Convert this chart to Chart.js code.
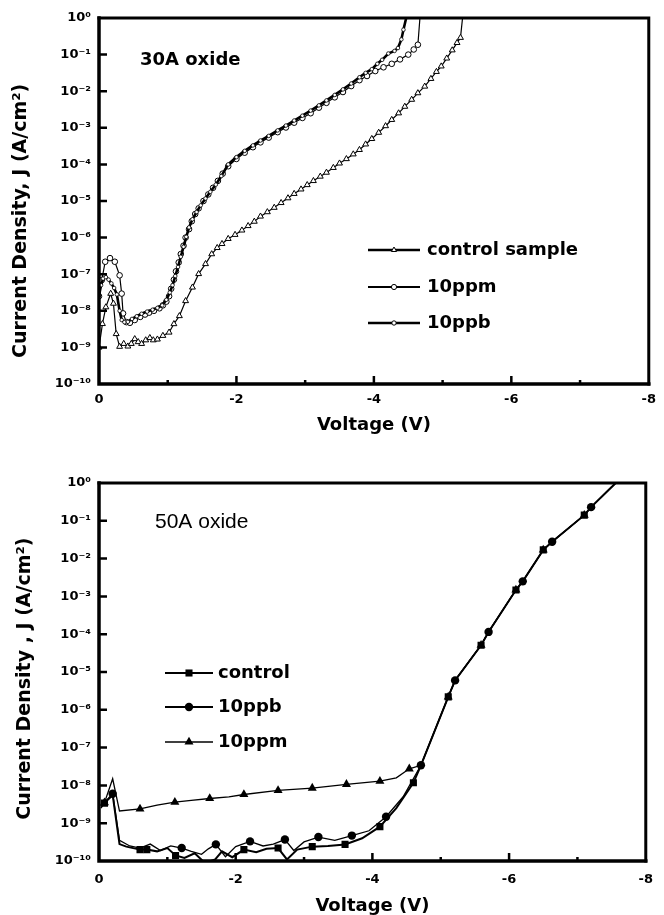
<!DOCTYPE html>
<html><head><meta charset="utf-8">
<script src="https://cdn.jsdelivr.net/npm/chart.js@4.4.0/dist/chart.umd.min.js"></script>
<style>
html,body{margin:0;padding:0;background:#fff;}
#w1{position:absolute;left:0;top:0;width:664px;height:445px;}
#w2{position:absolute;left:0;top:445px;width:664px;height:470px;}
</style></head><body>
<div id="w1"><canvas id="c1"></canvas></div>
<div id="w2"><canvas id="c2"></canvas></div>
<script>
// ---------- axis ticks ----------
const xTickValues = [0, -2, -4, -6, -8];
const xTickLabels = ['0', '-2', '-4', '-6', '-8'];
const xMinorTickValues = [-1, -3, -5, -7];
const yTickValues = [1e-10, 1e-9, 1e-8, 1e-7, 1e-6, 1e-5, 1e-4, 1e-3, 1e-2, 1e-1, 1];
const yTickLabels = ['10\u207B\u00B9\u2070', '10\u207B\u2079', '10\u207B\u2078', '10\u207B\u2077', '10\u207B\u2076', '10\u207B\u2075', '10\u207B\u2074', '10\u207B\u00B3', '10\u207B\u00B2', '10\u207B\u00B9', '10\u2070'];

// ---------- 30A oxide (top) ----------
const ctrl30V = [0, -0.05, -0.10, -0.17, -0.21, -0.25, -0.30, -0.36, -0.42, -0.47, -0.52, -0.57, -0.62, -0.68, -0.74, -0.79, -0.85, -0.93, -1.02, -1.09, -1.17, -1.26, -1.36, -1.45, -1.55, -1.64, -1.72, -1.79, -1.88, -1.98, -2.08, -2.17, -2.26, -2.35, -2.45, -2.55, -2.65, -2.75, -2.84, -2.94, -3.03, -3.12, -3.22, -3.31, -3.41, -3.50, -3.60, -3.70, -3.79, -3.88, -3.97, -4.07, -4.17, -4.26, -4.36, -4.45, -4.55, -4.64, -4.74, -4.83, -4.91, -4.98, -5.06, -5.14, -5.21, -5.26, -5.29];
const ctrl30J = [1.0e-9, 4.4e-9, 1.26e-8, 2.95e-8, 1.58e-8, 2.34e-9, 1.05e-9, 1.26e-9, 1.07e-9, 1.26e-9, 1.7e-9, 1.41e-9, 1.26e-9, 1.58e-9, 1.82e-9, 1.58e-9, 1.66e-9, 2.09e-9, 2.57e-9, 4.37e-9, 7.24e-9, 1.86e-8, 4.37e-8, 1.02e-7, 1.91e-7, 3.55e-7, 5.25e-7, 6.76e-7, 9.3e-7, 1.2e-6, 1.58e-6, 2.09e-6, 2.75e-6, 3.8e-6, 5.0e-6, 6.6e-6, 8.9e-6, 1.2e-5, 1.58e-5, 2.09e-5, 2.75e-5, 3.55e-5, 4.68e-5, 6.0e-5, 8.1e-5, 1.07e-4, 1.41e-4, 1.9e-4, 2.51e-4, 3.55e-4, 5.0e-4, 7.4e-4, 1.12e-3, 1.66e-3, 2.51e-3, 3.8e-3, 5.9e-3, 8.9e-3, 1.35e-2, 2.19e-2, 3.4e-2, 4.8e-2, 7.9e-2, 1.32e-1, 2.1e-1, 2.9e-1, 1.0];

const ppm30V = [0, -0.04, -0.09, -0.16, -0.23, -0.30, -0.33, -0.35, -0.40, -0.45, -0.52, -0.60, -0.67, -0.73, -0.80, -0.88, -0.93, -0.98, -1.02, -1.05, -1.09, -1.12, -1.16, -1.19, -1.23, -1.26, -1.31, -1.35, -1.40, -1.45, -1.52, -1.59, -1.66, -1.73, -1.80, -1.88, -2.00, -2.12, -2.24, -2.35, -2.47, -2.60, -2.72, -2.84, -2.96, -3.08, -3.20, -3.31, -3.43, -3.55, -3.67, -3.79, -3.90, -4.02, -4.14, -4.26, -4.38, -4.50, -4.58, -4.64, -4.67];
const ppm30J = [2.5e-8, 6.9e-8, 2.19e-7, 2.75e-7, 2.19e-7, 9.3e-8, 2.95e-8, 8.5e-9, 4.9e-9, 4.7e-9, 5.6e-9, 6.8e-9, 7.9e-9, 8.9e-9, 1.0e-8, 1.17e-8, 1.41e-8, 1.78e-8, 2.5e-8, 4.0e-8, 7.1e-8, 1.2e-7, 2.1e-7, 3.55e-7, 6.0e-7, 1.0e-6, 1.7e-6, 2.8e-6, 4.4e-6, 6.3e-6, 1.0e-5, 1.51e-5, 2.3e-5, 3.55e-5, 5.6e-5, 8.9e-5, 1.41e-4, 2.09e-4, 2.95e-4, 4.0e-4, 5.4e-4, 7.6e-4, 1.02e-3, 1.38e-3, 1.86e-3, 2.5e-3, 3.55e-3, 4.8e-3, 6.8e-3, 9.5e-3, 1.38e-2, 2.0e-2, 2.6e-2, 3.55e-2, 4.5e-2, 5.6e-2, 7.4e-2, 1.0e-1, 1.38e-1, 1.86e-1, 1.0];

const ppb30V = [0, -0.03, -0.06, -0.10, -0.14, -0.18, -0.22, -0.26, -0.30, -0.33, -0.37, -0.42, -0.48, -0.55, -0.62, -0.70, -0.78, -0.85, -0.92, -0.98, -1.03, -1.07, -1.11, -1.15, -1.19, -1.23, -1.27, -1.31, -1.36, -1.42, -1.48, -1.55, -1.62, -1.70, -1.78, -1.88, -2.00, -2.12, -2.24, -2.35, -2.47, -2.60, -2.72, -2.84, -2.96, -3.08, -3.20, -3.31, -3.43, -3.55, -3.67, -3.79, -3.88, -3.97, -4.05, -4.12, -4.21, -4.30, -4.35, -4.40, -4.43, -4.47];
const ppb30J = [2.6e-8, 5.0e-8, 7.6e-8, 8.3e-8, 7.1e-8, 5.6e-8, 4.2e-8, 2.8e-8, 1.0e-8, 5.6e-9, 4.9e-9, 5.0e-9, 6.0e-9, 7.1e-9, 8.3e-9, 9.5e-9, 1.07e-8, 1.2e-8, 1.41e-8, 2.0e-8, 3.16e-8, 5.0e-8, 8.9e-8, 1.58e-7, 3.0e-7, 5.6e-7, 1.05e-6, 1.9e-6, 3.16e-6, 5.0e-6, 7.6e-6, 1.17e-5, 1.78e-5, 2.8e-5, 4.8e-5, 1.0e-4, 1.58e-4, 2.34e-4, 3.3e-4, 4.5e-4, 6.0e-4, 8.5e-4, 1.15e-3, 1.58e-3, 2.14e-3, 2.95e-3, 4.1e-3, 5.6e-3, 7.9e-3, 1.12e-2, 1.62e-2, 2.4e-2, 3.16e-2, 4.0e-2, 5.6e-2, 7.2e-2, 1.07e-1, 1.26e-1, 1.51e-1, 2.6e-1, 4.8e-1, 1.0];

// ---------- 50A oxide (bottom) ----------
const ctrl50V = [-0.03, -0.08, -0.2, -0.3, -0.4, -0.6, -0.7, -0.85, -1.0, -1.12, -1.25, -1.4, -1.55, -1.7, -1.8, -1.95, -2.12, -2.3, -2.45, -2.62, -2.75, -2.9, -3.12, -3.35, -3.6, -3.85, -4.11, -4.35, -4.6, -4.71, -5.11, -5.21, -5.59, -5.7, -6.1, -6.2, -6.5, -6.63, -7.1, -7.2, -7.56];
const ctrl50J = [2.8e-9, 3.4e-9, 5.6e-9, 2.8e-10, 2.4e-10, 2.0e-10, 2.0e-10, 1.8e-10, 2.2e-10, 1.4e-10, 1.2e-10, 1.6e-10, 8.9e-11, 1.1e-10, 1.8e-10, 1.26e-10, 2.0e-10, 1.7e-10, 2.1e-10, 2.2e-10, 1.1e-10, 2.0e-10, 2.4e-10, 2.5e-10, 2.75e-10, 4.0e-10, 8.1e-10, 2.5e-9, 1.17e-8, 3.4e-8, 2.2e-6, 6.0e-6, 5.1e-5, 1.15e-4, 1.48e-3, 2.5e-3, 1.7e-2, 2.8e-2, 1.41e-1, 2.3e-1, 1.0];
const ctrl50Marked = [1, 5, 6, 9, 16, 19, 22, 24, 26, 28, 30, 32, 34, 36, 38];

const ppb50V = [-0.03, -0.2, -0.3, -0.45, -0.6, -0.75, -0.9, -1.05, -1.21, -1.35, -1.5, -1.6, -1.71, -1.85, -2.0, -2.21, -2.4, -2.55, -2.72, -2.85, -3.0, -3.21, -3.45, -3.7, -3.95, -4.2, -4.45, -4.71, -5.11, -5.21, -5.59, -5.7, -6.1, -6.2, -6.5, -6.63, -7.1, -7.2, -7.56];
const ppb50J = [2.8e-9, 6.0e-9, 3.5e-10, 2.5e-10, 2.2e-10, 2.8e-10, 1.9e-10, 2.5e-10, 2.2e-10, 1.8e-10, 1.5e-10, 2.1e-10, 2.75e-10, 1.3e-10, 2.4e-10, 3.3e-10, 2.5e-10, 2.8e-10, 3.7e-10, 1.9e-10, 3.2e-10, 4.3e-10, 3.5e-10, 4.7e-10, 6.3e-10, 1.48e-9, 5.0e-9, 3.4e-8, 2.2e-6, 6.0e-6, 5.1e-5, 1.15e-4, 1.48e-3, 2.5e-3, 1.7e-2, 2.8e-2, 1.41e-1, 2.3e-1, 1.0];
const ppb50Marked = [1, 8, 12, 15, 18, 21, 23, 25, 27, 29, 31, 33, 35, 37];

const ppm50V = [-0.03, -0.08, -0.2, -0.3, -0.6, -0.85, -1.11, -1.35, -1.62, -1.9, -2.12, -2.62, -3.12, -3.62, -4.11, -4.35, -4.54, -4.71, -5.11, -5.21, -5.59, -5.7, -6.1, -6.2, -6.5, -6.63, -7.1, -7.2, -7.56];
const ppm50J = [2.5e-9, 3.5e-9, 1.5e-8, 2.1e-9, 2.4e-9, 3.0e-9, 3.6e-9, 4.0e-9, 4.5e-9, 5.0e-9, 5.75e-9, 7.4e-9, 8.5e-9, 1.07e-8, 1.29e-8, 1.58e-8, 2.75e-8, 3.4e-8, 2.2e-6, 6.0e-6, 5.1e-5, 1.15e-4, 1.48e-3, 2.5e-3, 1.7e-2, 2.8e-2, 1.41e-1, 2.3e-1, 1.0];
const ppm50Marked = [1, 4, 6, 8, 10, 11, 12, 13, 14, 16, 18, 20, 22, 24, 26];

// ---------- helpers ----------
const pts = (xs, ys) => xs.map((x, i) => ({x, y: ys[i]}));
const FONT = "'DejaVu Sans', 'Liberation Sans', Arial, sans-serif";

function drawMarker(ctx, style, x, y, r, fill, stroke, bw) {
  ctx.save();
  ctx.fillStyle = fill; ctx.strokeStyle = stroke; ctx.lineWidth = bw;
  ctx.beginPath();
  if (style === 'circle') ctx.arc(x, y, r, 0, Math.PI * 2);
  else if (style === 'triangle') {
    ctx.moveTo(x, y - r); ctx.lineTo(x + r * 0.866, y + r * 0.5); ctx.lineTo(x - r * 0.866, y + r * 0.5); ctx.closePath();
  } else if (style === 'rect') {
    const s = r * Math.SQRT1_2; ctx.rect(x - s, y - s, 2 * s, 2 * s);
  }
  ctx.fill();
  if (bw > 0) ctx.stroke();
  ctx.restore();
}

const framePlugin = {
  id: 'frame',
  afterDraw(chart, args, o) {
    const {ctx, chartArea: a} = chart;
    const xs = chart.scales.x, ys = chart.scales.y;
    ctx.save();
    ctx.strokeStyle = '#000';
    ctx.lineCap = 'square';
    ctx.lineWidth = o.frameWidth;
    ctx.beginPath(); ctx.moveTo(a.left, a.top); ctx.lineTo(a.right, a.top); ctx.lineTo(a.right, a.bottom); ctx.stroke();
    ctx.lineWidth = o.axisWidth;
    ctx.beginPath(); ctx.moveTo(a.left, a.top); ctx.lineTo(a.left, a.bottom); ctx.lineTo(a.right, a.bottom); ctx.stroke();
    ctx.lineCap = 'butt';
    ctx.lineWidth = o.tickWidth;
    ctx.beginPath();
    for (const v of yTickValues) {
      if (v <= ys.min || v >= ys.max) continue;
      const p = ys.getPixelForValue(v);
      ctx.moveTo(a.left, p); ctx.lineTo(a.left + o.yTickLen, p);
    }
    for (const v of xTickValues) {
      if (v <= xs.min || v >= xs.max) continue;
      const p = xs.getPixelForValue(v);
      ctx.moveTo(p, a.bottom); ctx.lineTo(p, a.bottom - o.xTickLen);
    }
    for (const v of xMinorTickValues) {
      const p = xs.getPixelForValue(v);
      ctx.moveTo(p, a.bottom); ctx.lineTo(p, a.bottom - o.xMinorLen);
    }
    ctx.stroke();
    ctx.restore();
  }
};

const notesPlugin = {
  id: 'notes',
  afterDraw(chart, args, o) {
    const ctx = chart.ctx;
    ctx.save();
    ctx.fillStyle = '#000';
    ctx.textBaseline = 'middle';
    ctx.textAlign = 'left';
    // annotation
    ctx.font = o.labelFont;
    ctx.fillText(o.label, o.labelX, o.labelY);
    // legend
    ctx.font = o.legendFont;
    o.items.forEach((it, i) => {
      const y = o.rowY[i];
      ctx.strokeStyle = '#000';
      ctx.lineWidth = it.lineWidth;
      ctx.beginPath(); ctx.moveTo(o.lineX0, y); ctx.lineTo(o.lineX1, y); ctx.stroke();
      drawMarker(ctx, it.style, (o.lineX0 + o.lineX1) / 2, y, it.radius, it.fill, '#000', it.bw);
      ctx.fillStyle = '#000';
      ctx.fillText(it.text, o.textX, y);
    });
    ctx.restore();
  }
};

function baseOptions(cfg) {
  return {
    responsive: true,
    maintainAspectRatio: false,
    animation: false,
    devicePixelRatio: 1,
    layout: {padding: {top: cfg.padTop, right: 7, left: 0, bottom: 0}},
    plugins: {
      legend: {display: false},
      tooltip: {enabled: false},
      frame: {frameWidth: 3, axisWidth: 3.5, tickWidth: 2.5, yTickLen: 8, xTickLen: 8, xMinorLen: 4},
      notes: cfg.notes
    },
    scales: {
      x: {
        type: 'linear', min: -8, max: 0, reverse: true,
        afterBuildTicks: s => { s.ticks = xTickValues.map(v => ({value: v})); },
        afterFit: s => { s.height = cfg.xAxisH; },
        grid: {display: false, drawTicks: false},
        border: {display: false},
        ticks: {
          color: '#000', padding: cfg.xTickPad, maxRotation: 0, autoSkip: false,
          font: {family: FONT, weight: 'bold', size: 13},
          callback: v => xTickLabels[xTickValues.indexOf(v)]
        },
        title: {
          display: true, text: 'Voltage (V)', color: '#000',
          font: {family: FONT, weight: 'bold', size: 18, lineHeight: 1},
          padding: {top: 0, bottom: cfg.xTitlePad}
        }
      },
      y: {
        type: 'logarithmic', min: 1e-10, max: 1,
        afterBuildTicks: s => { s.ticks = yTickValues.map(v => ({value: v})); },
        afterFit: s => { s.width = 99; },
        grid: {display: false, drawTicks: false},
        border: {display: false},
        ticks: {
          color: '#000', padding: 8, autoSkip: false,
          font: {family: FONT, weight: 'bold', size: 13},
          callback: v => yTickLabels[yTickValues.indexOf(v)]
        },
        title: {
          display: true, text: cfg.yTitle, color: '#000',
          font: {family: FONT, weight: 'bold', size: 19, lineHeight: 1},
          padding: {top: cfg.yTitlePad, bottom: 0}
        }
      }
    }
  };
}

const hideTop = r => c => (c.raw && c.raw.y >= 1) ? 0 : r;

// ---------- chart 1 ----------
new Chart(document.getElementById('c1'), {
  type: 'line',
  data: {
    datasets: [
      {label: '10ppb', data: pts(ppb30V, ppb30J), borderColor: '#000', borderWidth: 2.6, tension: 0,
       pointStyle: 'circle', pointRadius: hideTop(1.8), pointBackgroundColor: '#fff', pointBorderColor: '#000', pointBorderWidth: 0.8},
      {label: '10ppm', data: pts(ppm30V, ppm30J), borderColor: '#000', borderWidth: 1.2, tension: 0,
       pointStyle: 'circle', pointRadius: hideTop(2.8), pointBackgroundColor: '#fff', pointBorderColor: '#000', pointBorderWidth: 1},
      {label: 'control sample', data: pts(ctrl30V, ctrl30J), borderColor: '#000', borderWidth: 1.2, tension: 0,
       pointStyle: 'triangle', pointRadius: hideTop(3.4), pointBackgroundColor: '#fff', pointBorderColor: '#000', pointBorderWidth: 1}
    ]
  },
  options: baseOptions({
    padTop: 18, xAxisH: 61, xTickPad: 8, xTitlePad: 11, yTitlePad: 12,
    yTitle: 'Current Density, J (A/cm\u00B2)      ',
    notes: {
      label: '30A oxide', labelX: 140, labelY: 60, labelFont: "bold 18px " + FONT,
      legendFont: "bold 18px " + FONT, lineX0: 368, lineX1: 420, textX: 427, rowY: [250, 287, 323],
      items: [
        {text: 'control sample', lineWidth: 2.6, style: 'triangle', radius: 3, fill: '#fff', bw: 1},
        {text: '10ppm', lineWidth: 1.8, style: 'circle', radius: 2.6, fill: '#fff', bw: 1},
        {text: '10ppb', lineWidth: 2.6, style: 'circle', radius: 2.2, fill: '#fff', bw: 1}
      ]
    }
  }),
  plugins: [framePlugin, notesPlugin]
});

// ---------- chart 2 ----------
const markR = (list, r) => c => list.includes(c.dataIndex) ? r : 0;
new Chart(document.getElementById('c2'), {
  type: 'line',
  data: {
    datasets: [
      {label: '10ppb', data: pts(ppb50V, ppb50J), borderColor: '#000', borderWidth: 1.3, tension: 0,
       pointStyle: 'circle', pointRadius: markR(ppb50Marked, 4.2), pointBackgroundColor: '#000', pointBorderColor: '#000', pointBorderWidth: 0},
      {label: '10ppm', data: pts(ppm50V, ppm50J), borderColor: '#000', borderWidth: 1.3, tension: 0,
       pointStyle: 'triangle', pointRadius: markR(ppm50Marked, 5.2), pointBackgroundColor: '#000', pointBorderColor: '#000', pointBorderWidth: 0},
      {label: 'control', data: pts(ctrl50V, ctrl50J), borderColor: '#000', borderWidth: 2, tension: 0,
       pointStyle: 'rect', pointRadius: markR(ctrl50Marked, 5), pointBackgroundColor: '#000', pointBorderColor: '#000', pointBorderWidth: 0}
    ]
  },
  options: baseOptions({
    padTop: 38, xAxisH: 54, xTickPad: 11, xTitlePad: 0, yTitlePad: 16,
    yTitle: 'Current Density , J (A/cm\u00B2)  ',
    notes: {
      label: '50A oxide', labelX: 155, labelY: 77, labelFont: "21px 'Liberation Sans', Arial, sans-serif",
      legendFont: "bold 18px " + FONT, lineX0: 165, lineX1: 213, textX: 218, rowY: [228, 262, 297],
      items: [
        {text: 'control', lineWidth: 2.2, style: 'rect', radius: 5, fill: '#000', bw: 0},
        {text: '10ppb', lineWidth: 2.2, style: 'circle', radius: 4.2, fill: '#000', bw: 0},
        {text: '10ppm', lineWidth: 1.6, style: 'triangle', radius: 5.2, fill: '#000', bw: 0}
      ]
    }
  }),
  plugins: [framePlugin, notesPlugin]
});
</script>
</body></html>
